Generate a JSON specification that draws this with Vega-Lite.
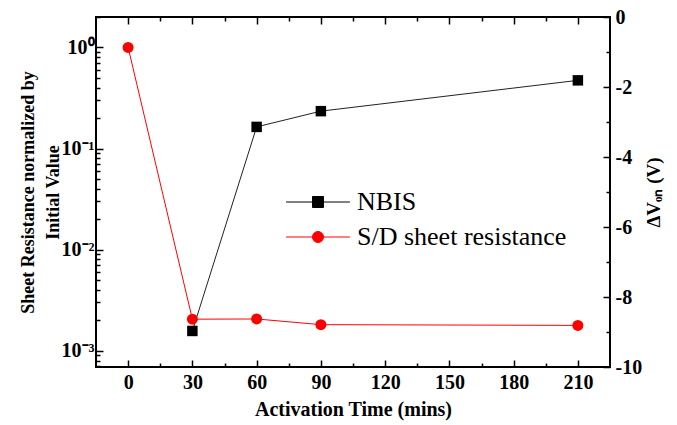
{
  "$schema": "https://vega.github.io/schema/vega-lite/v6.json",
  "width": 514,
  "height": 350,
  "autosize": {"type": "none"},
  "padding": {"left": 96, "top": 17, "right": 67, "bottom": 58},
  "background": "white",
  "config": {
    "view": {"stroke": "black", "strokeWidth": 2},
    "font": "Liberation Serif",
    "axis": {
      "domain": false,
      "grid": false,
      "labelFont": "Liberation Serif",
      "labelFontWeight": "bold",
      "labelFontSize": 20,
      "labelColor": "black",
      "titleFont": "Liberation Serif",
      "titleFontWeight": "bold",
      "titleFontSize": 18,
      "titleColor": "black",
      "tickColor": "black",
      "tickWidth": 1.5
    },
    "legend": {
      "labelFont": "Liberation Serif",
      "labelFontSize": 26,
      "labelFontWeight": "normal",
      "labelColor": "black",
      "labelLimit": 0
    }
  },
  "data": {
    "values": [
      {"time": 0, "series": "S/D sheet resistance", "value": 1.0},
      {"time": 30, "series": "S/D sheet resistance", "value": 0.00205},
      {"time": 60, "series": "S/D sheet resistance", "value": 0.00206},
      {"time": 90, "series": "S/D sheet resistance", "value": 0.00181},
      {"time": 210, "series": "S/D sheet resistance", "value": 0.00178},
      {"time": 30, "series": "NBIS", "value": -8.97},
      {"time": 60, "series": "NBIS", "value": -3.14},
      {"time": 90, "series": "NBIS", "value": -2.69},
      {"time": 210, "series": "NBIS", "value": -1.81}
    ]
  },
  "layer": [
    {
      "transform": [{"filter": "datum.series === 'NBIS'"}],
      "encoding": {
        "x": {
          "field": "time", "type": "quantitative",
          "scale": {"domain": [-15, 225], "nice": false, "zero": false},
          "axis": {
            "orient": "top", "title": null, "labels": false,
            "values": [0, 15, 30, 45, 60, 75, 90, 105, 120, 135, 150, 165, 180, 195, 210],
            "tickSize": {"condition": {"test": "datum.value % 30 === 0", "value": -7}, "value": -4}
          }
        },
        "y": {
          "field": "value", "type": "quantitative",
          "scale": {"domain": [-10, 0], "nice": false, "zero": false},
          "axis": {
            "orient": "right",
            "title": "ΔVₒₙ (V)",
            "titleAngle": -90,
            "titlePadding": 22,
            "titleFontSize": 19,
            "labelFont": "Liberation Serif",
            "labelFontWeight": 700,
            "values": [-10, -9, -8, -7, -6, -5, -4, -3, -2, -1, 0],
            "labelExpr": "datum.value % 2 === 0 ? '' + datum.value : ''",
            "labelPadding": 12,
            "tickSize": {"condition": {"test": "datum.value % 2 === 0", "value": -7}, "value": -4}
          }
        }
      },
      "layer": [
        {"mark": {"type": "line", "color": "#222222", "strokeWidth": 1}},
        {
          "mark": {"type": "square", "filled": true, "size": 110, "opacity": 1},
          "encoding": {
            "color": {
              "field": "series", "type": "nominal",
              "scale": {"domain": ["NBIS", "S/D sheet resistance"], "range": ["black", "red"]},
              "legend": {
                "orient": "none", "legendX": 209, "legendY": 172, "title": null,
                "symbolSize": 121, "labelOffset": 26, "rowPadding": 9, "symbolStrokeWidth": 1, "labelLimit": 0,
                "symbolType": {"expr": "datum.value === 'NBIS' ? 'M-5.8,0H5.8M-1,-1H1V1H-1Z' : 'M-5.8,0H5.8M1,0A1,1,0,1,1,-1,0A1,1,0,1,1,1,0Z'"},
                "symbolStrokeColor": {"expr": "datum.value === 'NBIS' ? 'black' : 'red'"}
              }
            }
          }
        }
      ]
    },
    {
      "transform": [{"filter": "datum.series === 'S/D sheet resistance'"}],
      "encoding": {
        "x": {
          "field": "time", "type": "quantitative",
          "scale": {"domain": [-15, 225], "nice": false, "zero": false},
          "axis": {
            "orient": "bottom", "title": "Activation Time (mins)",
            "titleFontSize": 20,
            "labelFont": "Liberation Serif",
            "labelFontWeight": 700,
            "values": [0, 15, 30, 45, 60, 75, 90, 105, 120, 135, 150, 165, 180, 195, 210],
            "labelExpr": "datum.value % 30 === 0 ? '' + datum.value : ''",
            "labelPadding": 12,
            "titlePadding": 7,
            "tickSize": {"condition": {"test": "datum.value % 30 === 0", "value": -7}, "value": -4}
          }
        },
        "y": {
          "field": "value", "type": "quantitative",
          "scale": {"type": "log", "domain": [0.00069, 2.0], "nice": false},
          "axis": {
            "orient": "left",
            "title": ["Sheet Resistance normalized by", "Initial Value"],
            "titlePadding": -1,
            "titleLineHeight": 25,
            "labelFont": "Liberation Serif",
            "labelFontWeight": 700,
            "values": [0.0007, 0.0008, 0.0009, 0.001, 0.002, 0.003, 0.004, 0.005, 0.006, 0.007, 0.008, 0.009, 0.01, 0.02, 0.03, 0.04, 0.05, 0.06, 0.07, 0.08, 0.09, 0.1, 0.2, 0.3, 0.4, 0.5, 0.6, 0.7, 0.8, 0.9, 1, 2],
            "labelExpr": "datum.value === 1 ? '10⁰' : datum.value === 0.1 ? '10⁻¹' : datum.value === 0.01 ? '10⁻²' : datum.value === 0.001 ? '10⁻³' : ''",
            "labelPadding": 9,
            "tickSize": {"condition": {"test": "datum.value === 1 || datum.value === 0.1 || datum.value === 0.01 || datum.value === 0.001", "value": -7}, "value": -4}
          }
        }
      },
      "layer": [
        {"mark": {"type": "line", "color": "red", "strokeWidth": 1}},
        {
          "mark": {"type": "circle", "size": 121, "opacity": 1},
          "encoding": {
            "color": {
              "field": "series", "type": "nominal",
              "scale": {"domain": ["NBIS", "S/D sheet resistance"], "range": ["black", "red"]},
              "legend": {
                "orient": "none", "legendX": 209, "legendY": 172, "title": null,
                "symbolSize": 121, "labelOffset": 26, "rowPadding": 9, "symbolStrokeWidth": 1, "labelLimit": 0,
                "symbolType": {"expr": "datum.value === 'NBIS' ? 'M-5.8,0H5.8M-1,-1H1V1H-1Z' : 'M-5.8,0H5.8M1,0A1,1,0,1,1,-1,0A1,1,0,1,1,1,0Z'"},
                "symbolStrokeColor": {"expr": "datum.value === 'NBIS' ? 'black' : 'red'"}
              }
            }
          }
        }
      ]
    }
  ],
  "resolve": {"scale": {"y": "independent"}, "axis": {"x": "independent", "y": "independent"}}
}
